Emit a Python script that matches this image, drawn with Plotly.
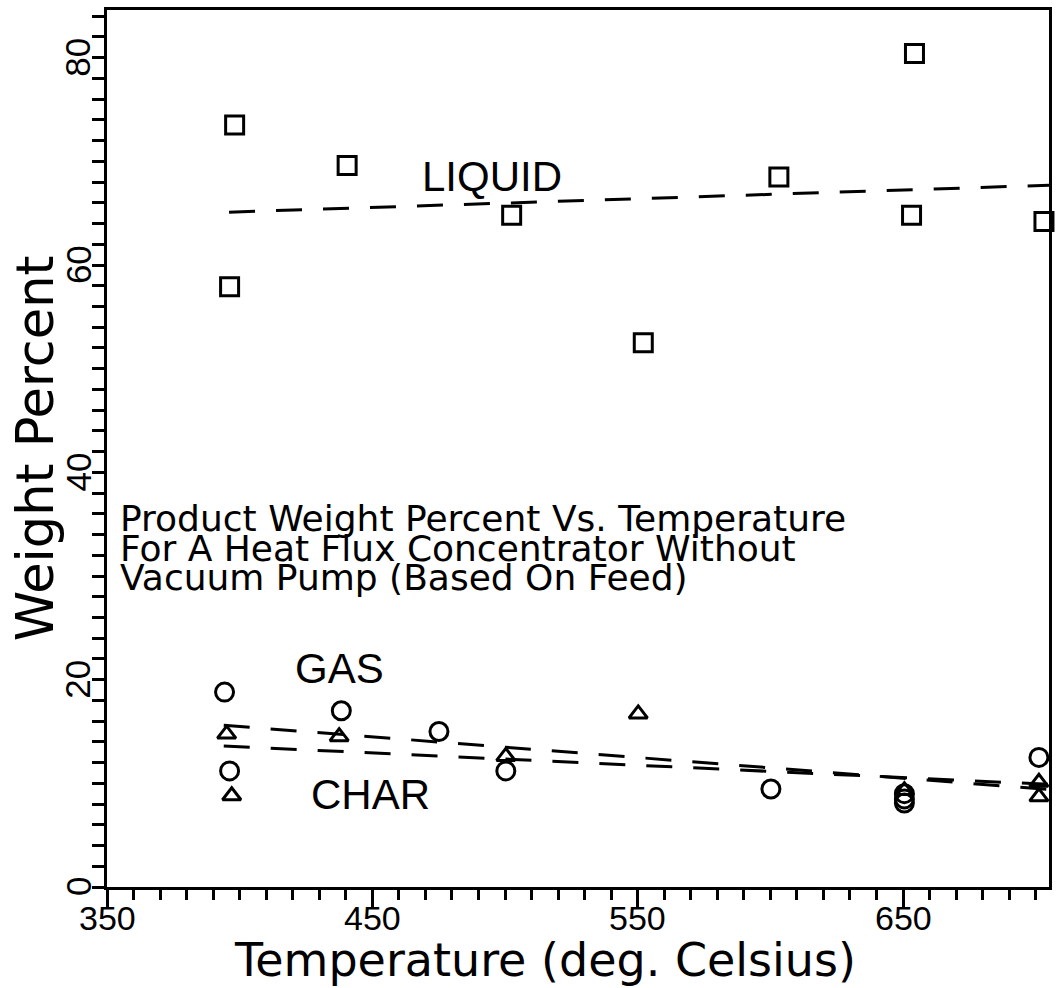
import plotly.graph_objects as go

# ---------------- data ----------------
liquid_temp = [398.1, 396.2, 440.5, 502.5, 552.1, 603.2, 654.3, 653.2, 703.1]
liquid_wt   = [73.5, 57.9, 69.6, 64.8, 52.5, 68.5, 80.4, 64.8, 64.2]

gas_temp = [394.3, 396.2, 438.3, 475.1, 500.3, 600.2, 650.5, 650.5, 650.5, 701.2]
gas_wt   = [18.8, 11.2, 17.0, 15.0, 11.2, 9.45, 9.0, 8.5, 8.1, 12.5]

char_temp = [395.1, 397.0, 437.5, 500.3, 550.2, 650.5, 701.2, 701.2]
char_wt   = [14.75, 8.8, 14.5, 12.6, 16.7, 9.3, 10.1, 8.7]

# fitted trend lines (end points)
liquid_fit_temp = [396, 705]
liquid_fit_wt   = [65.1, 67.7]
gas_fit_temp = [394, 705]
gas_fit_wt   = [15.6, 9.4]
char_fit_temp = [394, 705]
char_fit_wt   = [13.6, 9.9]

x_ticks = [350, 450, 550, 650]
y_ticks = [0, 20, 40, 60, 80]

title_lines = ["Product Weight Percent Vs. Temperature",
               "For A Heat Flux Concentrator Without",
               "Vacuum Pump (Based On Feed)"]

# ---------------- figure ----------------
W, H = 1057, 988
L, R, T, B = 107, 5, 10, 101
X0, X1 = 350, 705
Y0, Y1 = 0, 84.6

BLACK = "black"
DASH = "26px,21px"
TEXTFONT = "DejaVu Sans"
TICKFONT = "Liberation Sans, Arial, sans-serif"

fig = go.Figure()

for xs, ys in [(liquid_fit_temp, liquid_fit_wt), (gas_fit_temp, gas_fit_wt),
               (char_fit_temp, char_fit_wt)]:
    fig.add_trace(go.Scatter(x=xs, y=ys, mode="lines",
                             line=dict(color=BLACK, width=3, dash=DASH),
                             hoverinfo="skip", showlegend=False, cliponaxis=True))

fig.add_trace(go.Scatter(x=liquid_temp, y=liquid_wt, mode="markers", name="LIQUID",
                         marker=dict(symbol="square-open", size=18, color=BLACK,
                                     line=dict(width=3, color=BLACK)),
                         showlegend=False, cliponaxis=False))
fig.add_trace(go.Scatter(x=gas_temp, y=gas_wt, mode="markers", name="GAS",
                         marker=dict(symbol="circle-open", size=18, color=BLACK,
                                     line=dict(width=3, color=BLACK)),
                         showlegend=False, cliponaxis=False))
fig.add_trace(go.Scatter(x=char_temp, y=char_wt, mode="markers", name="CHAR",
                         marker=dict(symbol="triangle-up-open", size=16, color=BLACK,
                                     line=dict(width=3, color=BLACK)),
                         showlegend=False, cliponaxis=False))


def px_to_paper(px, py):
    return (px - L) / (W - L - R), (H - B - py) / (H - T - B)


annotations = []
# tick labels (placed as text at the axis tick values)
_, xlab_y = px_to_paper(0, 918)
for v in x_ticks:
    annotations.append(dict(text=str(v), x=v, xref="x", y=xlab_y, yref="paper",
                            showarrow=False, xanchor="center", yanchor="middle",
                            font=dict(family=TICKFONT, size=34, color=BLACK)))
ylab_x, _ = px_to_paper(78, 0)
for v in y_ticks:
    annotations.append(dict(text=str(v), x=ylab_x, xref="paper", y=v, yref="y",
                            textangle=-90, showarrow=False,
                            xanchor="center", yanchor="middle",
                            font=dict(family=TICKFONT, size=35, color=BLACK)))
# series labels
for txt, x, y in [("LIQUID", 495, 68.5), ("GAS", 437.5, 21.1), ("CHAR", 449.4, 8.9)]:
    annotations.append(dict(text=txt, x=x, y=y, xref="x", yref="y", showarrow=False,
                            font=dict(family=TICKFONT, size=42, color=BLACK),
                            xanchor="center", yanchor="middle"))
# title block
for line, py in zip(title_lines, [518, 548, 577]):
    px, pyp = px_to_paper(118, py)
    annotations.append(dict(text=line, x=px, y=pyp, xref="paper", yref="paper",
                            showarrow=False, xanchor="left", yanchor="middle",
                            font=dict(family=TEXTFONT, size=36, color=BLACK)))
# axis titles
px, pyp = px_to_paper(546, 960)
annotations.append(dict(text="Temperature (deg. Celsius)", x=px, y=pyp,
                        xref="paper", yref="paper", showarrow=False,
                        xanchor="center", yanchor="middle",
                        font=dict(family=TEXTFONT, size=46, color=BLACK)))
px, pyp = px_to_paper(35, 448)
annotations.append(dict(text="Weight Percent", x=px, y=pyp, textangle=-90,
                        xref="paper", yref="paper", showarrow=False,
                        xanchor="center", yanchor="middle",
                        font=dict(family=TEXTFONT, size=51, color=BLACK)))

fig.update_layout(
    width=W, height=H,
    margin=dict(l=L, r=R, t=T, b=B),
    paper_bgcolor="white", plot_bgcolor="white",
    annotations=annotations,
    showlegend=False,
)
fig.update_xaxes(range=[X0, X1], showgrid=False, zeroline=False,
                 showline=True, linecolor=BLACK, linewidth=3, mirror=True,
                 ticks="outside", tickvals=x_ticks, showticklabels=False,
                 ticklen=17, tickwidth=3, tickcolor=BLACK,
                 minor=dict(ticks="outside", dtick=10, tick0=350, ticklen=10,
                            tickwidth=3, tickcolor=BLACK, showgrid=False))
fig.update_yaxes(range=[Y0, Y1], showgrid=False, zeroline=False,
                 showline=True, linecolor=BLACK, linewidth=3, mirror=True,
                 ticks="outside", tickvals=y_ticks, showticklabels=False,
                 ticklen=12, tickwidth=3, tickcolor=BLACK,
                 minor=dict(ticks="outside", dtick=2, tick0=0, ticklen=12,
                            tickwidth=3, tickcolor=BLACK, showgrid=False))

fig.write_html("out.html")
